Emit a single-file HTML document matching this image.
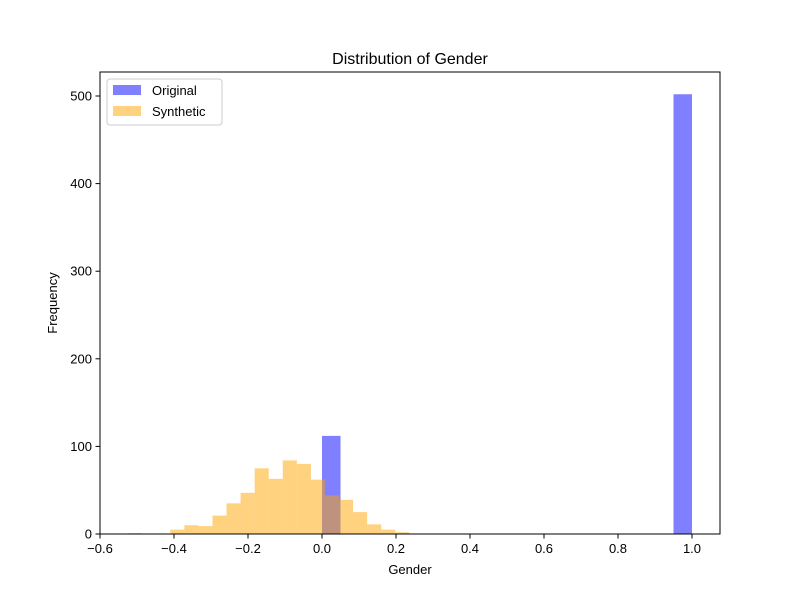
<!DOCTYPE html>
<html><head><meta charset="utf-8"><style>body{margin:0;background:#fff}svg{font-family:"Liberation Sans","DejaVu Sans",sans-serif}</style></head>
<body>
<svg id="chart" width="800" height="600" viewBox="0 0 800 600" xmlns="http://www.w3.org/2000/svg">
<rect width="800" height="600" fill="#fff"/>
<g id="bars"></g>
<rect x="100" y="72" width="620" height="462" fill="none" stroke="#000" stroke-width="1"/>
<g id="axes"></g>
<text x="410" y="64" font-size="16" text-anchor="middle">Distribution of Gender</text>
<text x="410" y="574" font-size="13" text-anchor="middle">Gender</text>
<text x="57" y="303" font-size="13" text-anchor="middle" transform="rotate(-90 57 303)">Frequency</text>
<g>
<rect x="107" y="79" width="115" height="46" fill="#fff" stroke="#ccc" rx="3"/>
<rect x="113" y="85" width="28" height="10" fill="#0000ff" fill-opacity="0.5"/>
<text x="152" y="95" font-size="13">Original</text>
<rect x="113" y="106" width="28" height="10" fill="#ffa500" fill-opacity="0.5"/>
<text x="152" y="116" font-size="13">Synthetic</text>
</g>
</svg>
<script>
const origStart = 0.0;
const origWidth = 0.05;
const origCounts = [112,0,0,0,0,0,0,0,0,0,0,0,0,0,0,0,0,0,0,502];
const synStart = -0.524;
const synWidth = 0.038;
const synCounts = [1,0,0,5,10,9,21,35,47,75,63,84,80,62,44,39,25,11,5,2];
const xTicks = [-0.6,-0.4,-0.2,0.0,0.2,0.4,0.6,0.8,1.0];
const yTicks = [0,100,200,300,400,500];

const NS = "http://www.w3.org/2000/svg";
const x = v => 322 + v * 370;
const y = v => 534 - v * 0.876;
const bars = document.getElementById('bars');
const axes = document.getElementById('axes');
function mk(tag, attrs, parent) {
  const e = document.createElementNS(NS, tag);
  for (const k in attrs) e.setAttribute(k, attrs[k]);
  parent.appendChild(e);
  return e;
}
origCounts.forEach((c, i) => {
  if (!c) return;
  const r = mk('rect', {x: x(origStart + i*origWidth), y: y(c), width: x(origStart+(i+1)*origWidth)-x(origStart+i*origWidth), height: y(0)-y(c), fill: '#0000ff', 'fill-opacity': 0.5}, bars);
  
  
});
synCounts.forEach((c, i) => {
  if (!c) return;
  const r = mk('rect', {x: x(synStart + i*synWidth), y: y(c), width: x(synStart+(i+1)*synWidth)-x(synStart+i*synWidth), height: y(0)-y(c), fill: '#ffa500', 'fill-opacity': 0.5}, bars);
  
  
});
xTicks.forEach(t => {
  const l = mk('line', {x1: x(t), x2: x(t), y1: 534, y2: 538.5, stroke: '#000'}, axes);
  
  
  const s = mk('text', {x: x(t), y: 553, 'font-size': 13, 'text-anchor': 'middle'}, axes);
  
  
  s.textContent = t.toFixed(1).replace('-', '\u2212');
});
yTicks.forEach(t => {
  const l = mk('line', {x1: 95.5, x2: 100, y1: y(t), y2: y(t), stroke: '#000'}, axes);
  
  
  const s = mk('text', {x: 92, y: y(t) + 4.5, 'font-size': 13, 'text-anchor': 'end'}, axes);
  
  
  s.textContent = t;
});
</script>
</body></html>
